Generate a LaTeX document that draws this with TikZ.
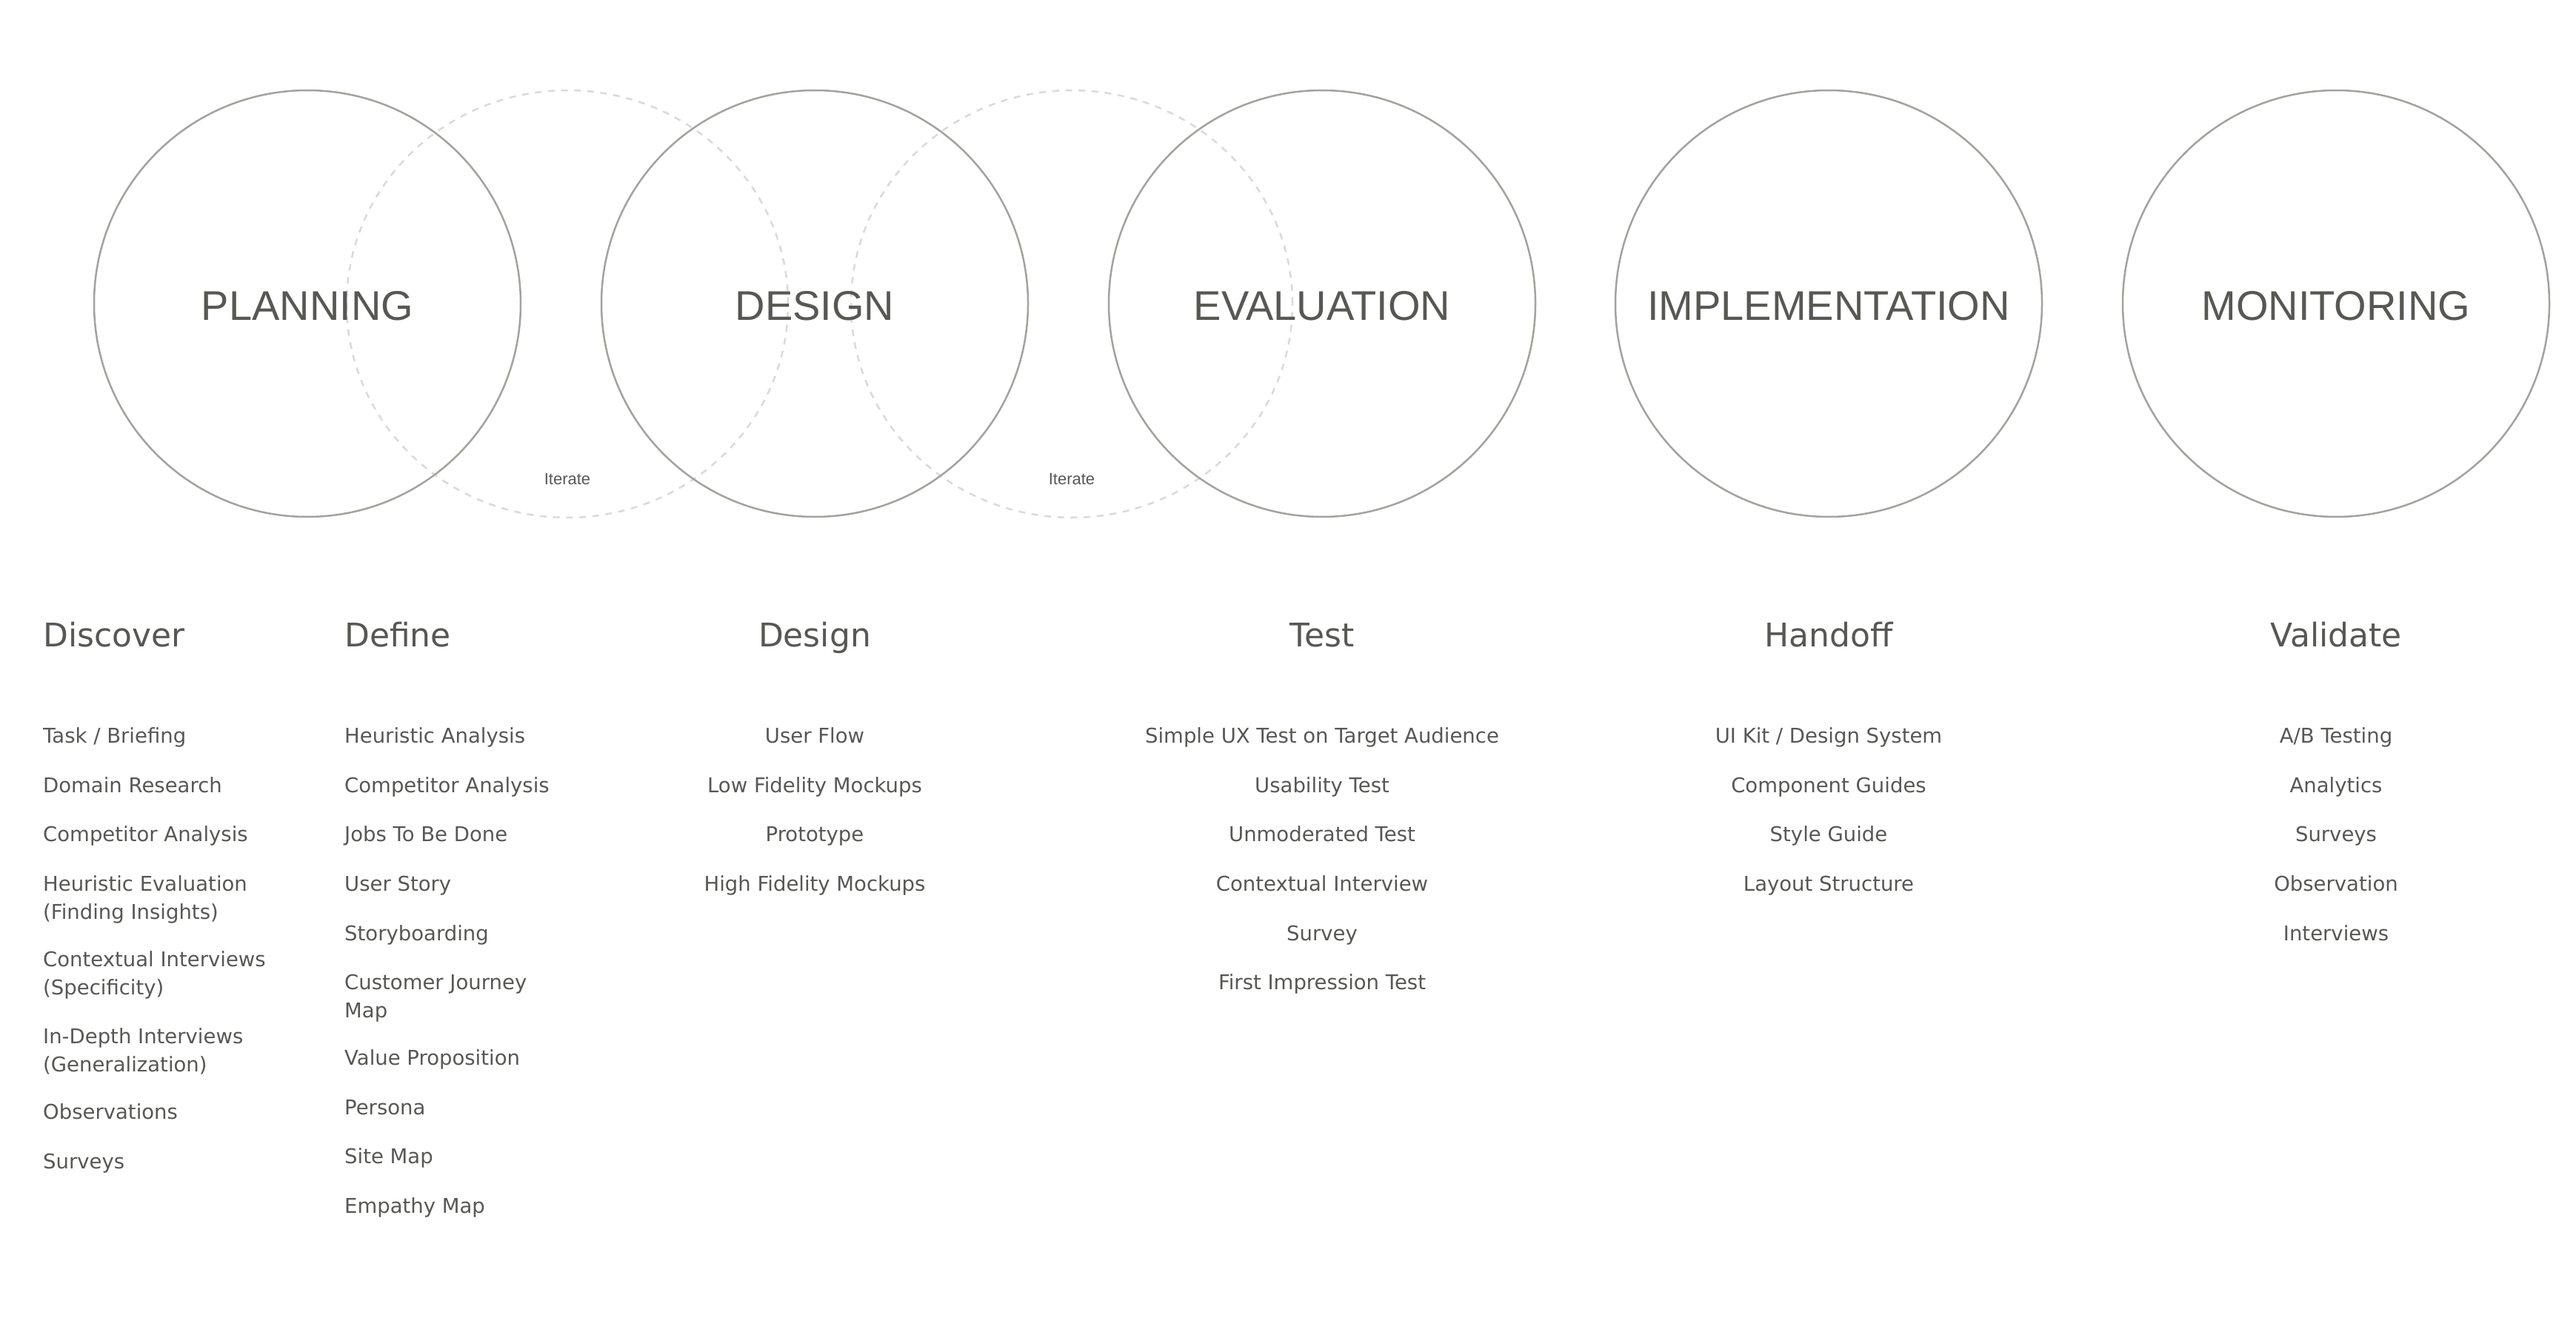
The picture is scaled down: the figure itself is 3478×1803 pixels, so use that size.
\documentclass[tikz,border=0pt]{standalone}
\usepackage{fontspec}
\usetikzlibrary{shapes.geometric}
\setmainfont{DejaVu Sans}
\newfontfamily\labelfont{Liberation Sans}
\definecolor{txt}{HTML}{575754}
\definecolor{ring}{HTML}{A3A39E}
\definecolor{dashring}{HTML}{DADADA}
\tikzset{
  phasering/.style={circle, draw=ring, line width=2.5pt, minimum size=576pt, inner sep=0pt,
    font=\labelfont\fontsize{56}{60}\selectfont, text=txt, text height=44.1pt, text depth=0pt},
  iterring/.style={ellipse, draw=dashring, line width=2.5pt, dash pattern=on 9pt off 8.7pt,
    minimum width=596pt, minimum height=577pt, inner sep=0pt},
  iterlbl/.style={font=\labelfont\fontsize{22}{24}\selectfont, text=txt, inner sep=0pt},
  colhead/.style={font=\fontsize{44}{50}\selectfont, text=txt, inner sep=0pt},
  leftitem/.style={font=\fontsize{27.5}{37.7}\selectfont, text=txt, inner sep=0pt, align=left, anchor=north west},
  centeritem/.style={font=\fontsize{27.5}{37.7}\selectfont, text=txt, inner sep=0pt, anchor=base},
}
\begin{document}
\begin{tikzpicture}[x=1pt,y=-1pt]
\useasboundingbox (0,0) rectangle (3478,1803);
\fill[white] (0,0) rectangle (3478,1803);
% iterate rings
\node[iterring] (iterA) at (766,410.5) {};
\node[iterring] (iterB) at (1447,410.5) {};
% phase rings
\node[phasering] (planning) at (415,410) {PLANNING};
\node[phasering] (design) at (1100,410) {DESIGN};
\node[phasering] (evaluation) at (1785,410) {EVALUATION};
\node[phasering] (implementation) at (2469,410) {IMPLEMENTATION};
\node[phasering] (monitoring) at (3154,410) {MONITORING};
\node[iterlbl] (iterlblA) at (766,647) {Iterate};
\node[iterlbl] (iterlblB) at (1447,647) {Iterate};
% headings
\node[colhead, anchor=base west] (hdiscover) at (58,873) {Discover};
\node[colhead, anchor=base west] (hdefine) at (465,873) {Define};
\node[colhead, anchor=base] (hdesign) at (1100,873) {Design};
\node[colhead, anchor=base] (htest) at (1785,873) {Test};
\node[colhead, anchor=base] (hhandoff) at (2469,873) {Handoff};
\node[colhead, anchor=base] (hvalidate) at (3154,873) {Validate};
% Discover items (top = baseline - 26.4)
\node[leftitem] (d1) at (58,976.8) {\strut Task / Briefing};
\node[leftitem] (d2) at (58,1043.8) {\strut Domain Research};
\node[leftitem] (d3) at (58,1109.8) {\strut Competitor Analysis};
\node[leftitem] (d4) at (58,1176.8) {\strut Heuristic Evaluation\\(Finding Insights)};
\node[leftitem] (d5) at (58,1278.8) {\strut Contextual Interviews\\(Specificity)};
\node[leftitem] (d6) at (58,1382.8) {\strut In-Depth Interviews\\(Generalization)};
\node[leftitem] (d7) at (58,1484.8) {\strut Observations};
\node[leftitem] (d8) at (58,1551.8) {\strut Surveys};
% Define items
\node[leftitem] (f1) at (465,976.8) {\strut Heuristic Analysis};
\node[leftitem] (f2) at (465,1043.8) {\strut Competitor Analysis};
\node[leftitem] (f3) at (465,1109.8) {\strut Jobs To Be Done};
\node[leftitem] (f4) at (465,1176.8) {\strut User Story};
\node[leftitem] (f5) at (465,1243.8) {\strut Storyboarding};
\node[leftitem] (f6) at (465,1309.8) {\strut Customer Journey\\Map};
\node[leftitem] (f7) at (465,1411.8) {\strut Value Proposition};
\node[leftitem] (f8) at (465,1478.8) {\strut Persona};
\node[leftitem] (f9) at (465,1544.8) {\strut Site Map};
\node[leftitem] (f10) at (465,1611.8) {\strut Empathy Map};
% Design items
\node[centeritem] (g1) at (1100,1003) {User Flow};
\node[centeritem] (g2) at (1100,1070) {Low Fidelity Mockups};
\node[centeritem] (g3) at (1100,1136) {Prototype};
\node[centeritem] (g4) at (1100,1203) {High Fidelity Mockups};
% Test items
\node[centeritem] (t1) at (1785,1003) {Simple UX Test on Target Audience};
\node[centeritem] (t2) at (1785,1070) {Usability Test};
\node[centeritem] (t3) at (1785,1136) {Unmoderated Test};
\node[centeritem] (t4) at (1785,1203) {Contextual Interview};
\node[centeritem] (t5) at (1785,1270) {Survey};
\node[centeritem] (t6) at (1785,1336) {First Impression Test};
% Handoff items
\node[centeritem] (h1) at (2469,1003) {UI Kit / Design System};
\node[centeritem] (h2) at (2469,1070) {Component Guides};
\node[centeritem] (h3) at (2469,1136) {Style Guide};
\node[centeritem] (h4) at (2469,1203) {Layout Structure};
% Validate items
\node[centeritem] (v1) at (3154,1003) {A/B Testing};
\node[centeritem] (v2) at (3154,1070) {Analytics};
\node[centeritem] (v3) at (3154,1136) {Surveys};
\node[centeritem] (v4) at (3154,1203) {Observation};
\node[centeritem] (v5) at (3154,1270) {Interviews};
\end{tikzpicture}
\end{document}
